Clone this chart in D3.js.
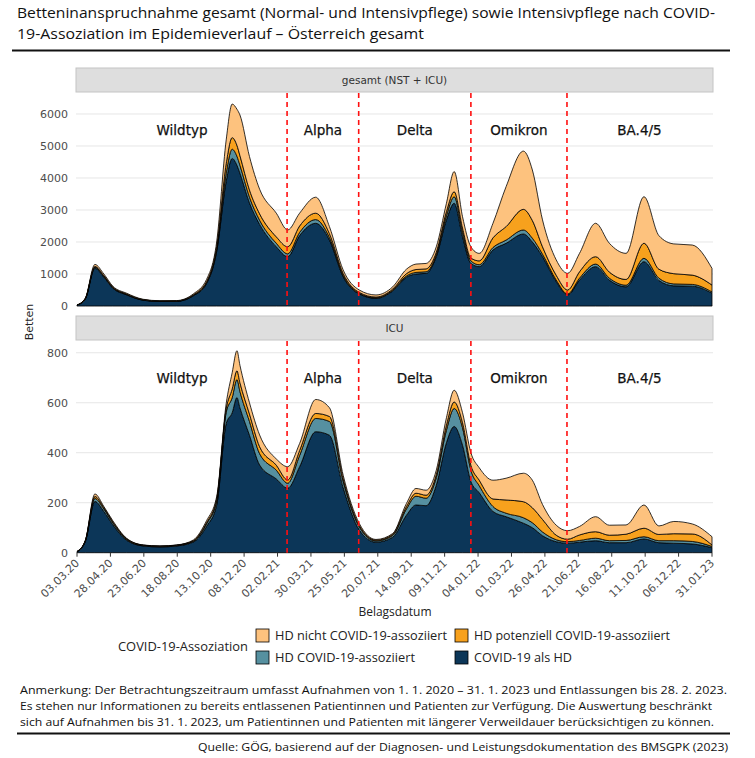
<!DOCTYPE html>
<html>
<head>
<meta charset="utf-8">
<script src="https://cdn.jsdelivr.net/npm/d3@7"></script>
<style>
  body { margin: 0; background: #fff; }
  svg { display: block; }
</style>
</head>
<body>
<svg id="chart" width="755" height="758"></svg>
<script>
// Belagsdatum (Stützstellen)
const dates = ['2020-03-03','2020-03-17','2020-04-02','2020-04-17','2020-05-02','2020-05-25','2020-06-22','2020-07-20',
  '2020-08-17','2020-09-14','2020-10-06','2020-10-23','2020-11-08','2020-11-18','2020-11-26','2020-12-01','2020-12-17',
  '2021-01-03','2021-01-31','2021-02-19','2021-03-11','2021-04-07','2021-04-30','2021-05-23','2021-06-19','2021-07-17',
  '2021-08-14','2021-09-06','2021-09-22','2021-10-09','2021-10-26','2021-11-12','2021-11-25','2021-12-09','2021-12-23',
  '2022-01-06','2022-01-29','2022-02-20','2022-03-21','2022-04-05','2022-04-22','2022-05-15','2022-06-03','2022-06-23',
  '2022-07-20','2022-08-12','2022-09-09','2022-10-09','2022-11-03','2022-11-28','2022-12-29','2023-01-31']

// gesamt (NST + ICU)
const gesamtHD     = [25,220,1180,900,560,350,180,140,145,320,700,1700,3900,4610,4400,4150,3220,2550,1850,1540,2200,2585,2060,915,375,240,470,900,1000,1020,1540,2690,3210,2165,1330,1230,1750,1960,2250,2000,1540,760,345,810,1230,810,600,1385,800,630,620,400]
const gesamtAssoz  = [3,10,35,30,20,15,8,8,7,15,30,80,250,290,280,250,180,130,110,90,100,115,80,40,20,15,25,40,50,50,60,130,205,140,80,60,80,100,125,120,80,50,30,60,80,60,50,105,70,60,55,40]
const gesamtPot    = [1,5,20,20,10,10,7,5,6,15,30,70,300,360,340,300,225,200,200,220,200,200,120,60,30,25,35,70,90,90,80,130,155,130,90,120,300,420,645,550,230,150,125,200,230,190,180,470,280,320,290,215]
const gesamtNicht  = [3,15,65,50,30,25,15,12,12,30,70,150,740,1050,1130,1270,1045,770,740,525,400,500,220,110,75,65,70,140,170,170,170,260,630,355,350,235,455,1250,1820,1580,840,480,520,575,1045,900,815,1455,1050,930,940,520]

// ICU
const icuHD        = [4,45,205,165,112,50,27,23,27,43,105,190,517,560,621,580,470,351,295,258,344,484,470,260,91,42,62,150,191,188,270,440,505,430,285,240,165,144,118,100,68,44,38,42,48,40,40,55,40,38,35,20]
const icuAssoz     = [0,2,12,10,8,4,2,2,2,3,10,17,45,60,72,65,55,45,35,20,45,53,55,25,12,5,7,25,35,30,30,50,72,70,45,28,20,14,22,20,15,8,6,7,10,8,9,9,8,10,10,5]
const icuPot       = [0,1,8,5,3,2,1,1,1,2,5,7,15,35,35,35,30,28,20,13,20,20,20,10,6,3,4,10,12,12,12,20,26,20,20,22,30,53,64,60,50,18,10,22,26,22,25,34,25,28,30,6]
const icuNicht     = [1,2,10,5,5,2,1,1,1,3,8,10,20,65,80,70,45,47,25,53,28,56,35,15,8,3,4,12,19,20,18,30,47,40,50,50,75,87,114,110,60,40,34,34,60,40,37,93,34,49,40,33]

const tickLabels = ['03.03.20','28.04.20','23.06.20','18.08.20','13.10.20','08.12.20','02.02.21','30.03.21','25.05.21','20.07.21',
  '14.09.21','09.11.21','04.01.22','01.03.22','26.04.22','21.06.22','16.08.22','11.10.22','06.12.22','31.01.23']
const gesamtTicks = [0,1000,2000,3000,4000,5000,6000]
const icuTicks = [0,200,400,600,800]

const variants = ['Wildtyp','Alpha','Delta','Omikron','BA.4/5']
const variantBreaks = ['2021-02-18','2021-06-18','2021-12-23','2022-06-02']

const seriesNames = ['COVID-19 als HD','HD COVID-19-assoziiert','HD potenziell COVID-19-assoziiert','HD nicht COVID-19-assoziiert']
const colors = ['#0c3658','#5690a0','#f7a11d','#fdc27e']

const parse = d3.timeParse('%Y-%m-%d')
const parseTick = d3.timeParse('%d.%m.%y')

const svg = d3.select('#chart')
const font = 'DejaVu Sans, Verdana, sans-serif'
const narrow = '"Open Sans", "Noto Sans", sans-serif'

// fit text to a measured width from the reference
function fit(sel, w) {
  sel.attr('textLength', w).attr('lengthAdjust', 'spacingAndGlyphs')
  return sel
}

// title
fit(svg.append('text').attr('x', 17).attr('y', 18).attr('font-family', narrow).attr('font-size', 15).attr('fill', '#111')
  .text('Betteninanspruchnahme gesamt (Normal- und Intensivpflege) sowie Intensivpflege nach COVID-'), 698)
fit(svg.append('text').attr('x', 17).attr('y', 39).attr('font-family', narrow).attr('font-size', 15).attr('fill', '#111')
  .text('19-Assoziation im Epidemieverlauf – Österreich gesamt'), 407)
svg.append('line').attr('x1', 12).attr('x2', 730).attr('y1', 50.5).attr('y2', 50.5).attr('stroke', '#111').attr('stroke-width', 2)

const left = 76, right = 713
const x = d3.scaleTime().domain([parse('2020-03-03'), parse('2023-01-31')]).range([left + 1, right - 1])

const panels = [
  { label: 'gesamt (NST + ICU)', stripTop: 68, top: 93, bottom: 306, max: 6656, ticks: gesamtTicks,
    series: [gesamtHD, gesamtAssoz, gesamtPot, gesamtNicht] },
  { label: 'ICU', stripTop: 316, top: 341, bottom: 552.7, max: 847, ticks: icuTicks,
    series: [icuHD, icuAssoz, icuPot, icuNicht] }
]

panels.forEach(function (p, pi) {
  const y = d3.scaleLinear().domain([0, p.max]).range([p.bottom, p.top])
  const g = svg.append('g')

  // strip
  g.append('rect').attr('x', left).attr('y', p.stripTop).attr('width', right - left).attr('height', p.top - p.stripTop - 1)
    .attr('fill', '#dedede').attr('stroke', '#c4c4c4').attr('stroke-width', 1)
  g.append('text').attr('x', (left + right) / 2).attr('y', (p.stripTop + p.top) / 2 + 3.5).attr('text-anchor', 'middle')
    .attr('font-family', font).attr('font-size', 10.5).attr('fill', '#333').text(p.label)

  // grid + y labels
  g.selectAll('.grid').data(p.ticks).join('line')
    .attr('x1', left).attr('x2', right).attr('y1', d => y(d)).attr('y2', d => y(d))
    .attr('stroke', '#e6e6e6').attr('stroke-width', 1)
  g.selectAll('.ylab').data(p.ticks).join('text')
    .attr('x', 68).attr('y', d => y(d) + 4).attr('text-anchor', 'end')
    .attr('font-family', font).attr('font-size', 11).attr('fill', '#4d4d4d').text(d => d)

  // stacked areas
  const table = dates.map(function (d, i) {
    const row = { date: parse(d) }
    seriesNames.forEach((k, j) => { row[k] = p.series[j][i] })
    return row
  })
  const stack = d3.stack().keys(seriesNames)(table)
  const area = d3.area().x(d => x(d.data.date)).y0(d => y(d[0])).y1(d => y(d[1])).curve(d3.curveMonotoneX)
  g.selectAll('.layer').data(stack).join('path')
    .attr('d', area).attr('fill', (d, i) => colors[i])
    .attr('stroke', '#000').attr('stroke-width', 0.8).attr('stroke-linejoin', 'round')

  // variant breaks
  g.selectAll('.vbreak').data(variantBreaks).join('line')
    .attr('x1', d => x(parse(d))).attr('x2', d => x(parse(d)))
    .attr('y1', p.top).attr('y2', p.bottom)
    .attr('stroke', '#ff1010').attr('stroke-width', 1.6).attr('stroke-dasharray', '5,4')

  const edges = [x.range()[0]].concat(variantBreaks.map(d => x(parse(d)))).concat([x.range()[1]])
  g.selectAll('.vlab').data(variants).join('text')
    .attr('x', (d, i) => (edges[i] + edges[i + 1]) / 2).attr('y', p.top + 42)
    .attr('text-anchor', 'middle').attr('font-family', font).attr('font-size', 13.5)
    .attr('fill', '#111').attr('stroke', '#111').attr('stroke-width', 0.25).text(d => d)

  // x axis only under the last panel
  if (pi === panels.length - 1) {
    const ticks = tickLabels.map(parseTick)
    g.selectAll('.xtick').data(ticks).join('line')
      .attr('x1', d => x(d)).attr('x2', d => x(d)).attr('y1', p.bottom).attr('y2', p.bottom + 4)
      .attr('stroke', '#333').attr('stroke-width', 1)
    g.selectAll('.xlab').data(tickLabels).join('text')
      .attr('transform', (d, i) => 'translate(' + (x(ticks[i]) + 3) + ',' + (p.bottom + 11) + ') rotate(-45)')
      .attr('text-anchor', 'end').attr('font-family', font).attr('font-size', 11).attr('fill', '#4d4d4d').text(d => d)
  }
})

// axis titles
svg.append('text').attr('transform', 'translate(33,322) rotate(-90)').attr('text-anchor', 'middle')
  .attr('font-family', font).attr('font-size', 11).attr('fill', '#222').text('Betten')
svg.append('text').attr('x', 395).attr('y', 616).attr('text-anchor', 'middle')
  .attr('font-family', narrow).attr('font-size', 12).attr('fill', '#222').text('Belagsdatum')

// legend
fit(svg.append('text').attr('x', 118).attr('y', 651).attr('font-family', narrow).attr('font-size', 12).attr('fill', '#222')
  .text('COVID-19-Assoziation'), 130)
const legendItems = [
  { i: 3, col: 0, row: 0, w: 172 },
  { i: 2, col: 1, row: 0, w: 196 },
  { i: 1, col: 0, row: 1, w: 140 },
  { i: 0, col: 1, row: 1, w: 98 }
]
const lg = svg.append('g')
lg.selectAll('rect').data(legendItems).join('rect')
  .attr('x', d => d.col ? 455 : 256).attr('y', d => 629 + d.row * 22).attr('width', 13).attr('height', 13)
  .attr('fill', d => colors[d.i]).attr('stroke', '#000').attr('stroke-width', 0.8)
lg.selectAll('text').data(legendItems).join('text')
  .attr('x', d => d.col ? 474 : 275).attr('y', d => 640 + d.row * 22)
  .attr('font-family', narrow).attr('font-size', 12).attr('fill', '#222')
  .attr('textLength', d => d.w).attr('lengthAdjust', 'spacingAndGlyphs')
  .text(d => seriesNames[d.i])

// footnote
const notes = [
  ['Anmerkung: Der Betrachtungszeitraum umfasst Aufnahmen von 1. 1. 2020 – 31. 1. 2023 und Entlassungen bis 28. 2. 2023.', 707],
  ['Es stehen nur Informationen zu bereits entlassenen Patientinnen und Patienten zur Verfügung. Die Auswertung beschränkt', 692],
  ['sich auf Aufnahmen bis 31. 1. 2023, um Patientinnen und Patienten mit längerer Verweildauer berücksichtigen zu können.', 694]
]
notes.forEach(function (n, i) {
  fit(svg.append('text').attr('x', 20).attr('y', 694 + i * 16).attr('font-family', narrow).attr('font-size', 11.5)
    .attr('fill', '#111').text(n[0]), n[1])
})
svg.append('line').attr('x1', 17).attr('x2', 730).attr('y1', 733.5).attr('y2', 733.5).attr('stroke', '#111').attr('stroke-width', 2)
fit(svg.append('text').attr('x', 728).attr('y', 751).attr('text-anchor', 'end').attr('font-family', narrow).attr('font-size', 11.5)
  .attr('fill', '#111').text('Quelle: GÖG, basierend auf der Diagnosen- und Leistungsdokumentation des BMSGPK (2023)'), 530)
</script>
</body>
</html>
